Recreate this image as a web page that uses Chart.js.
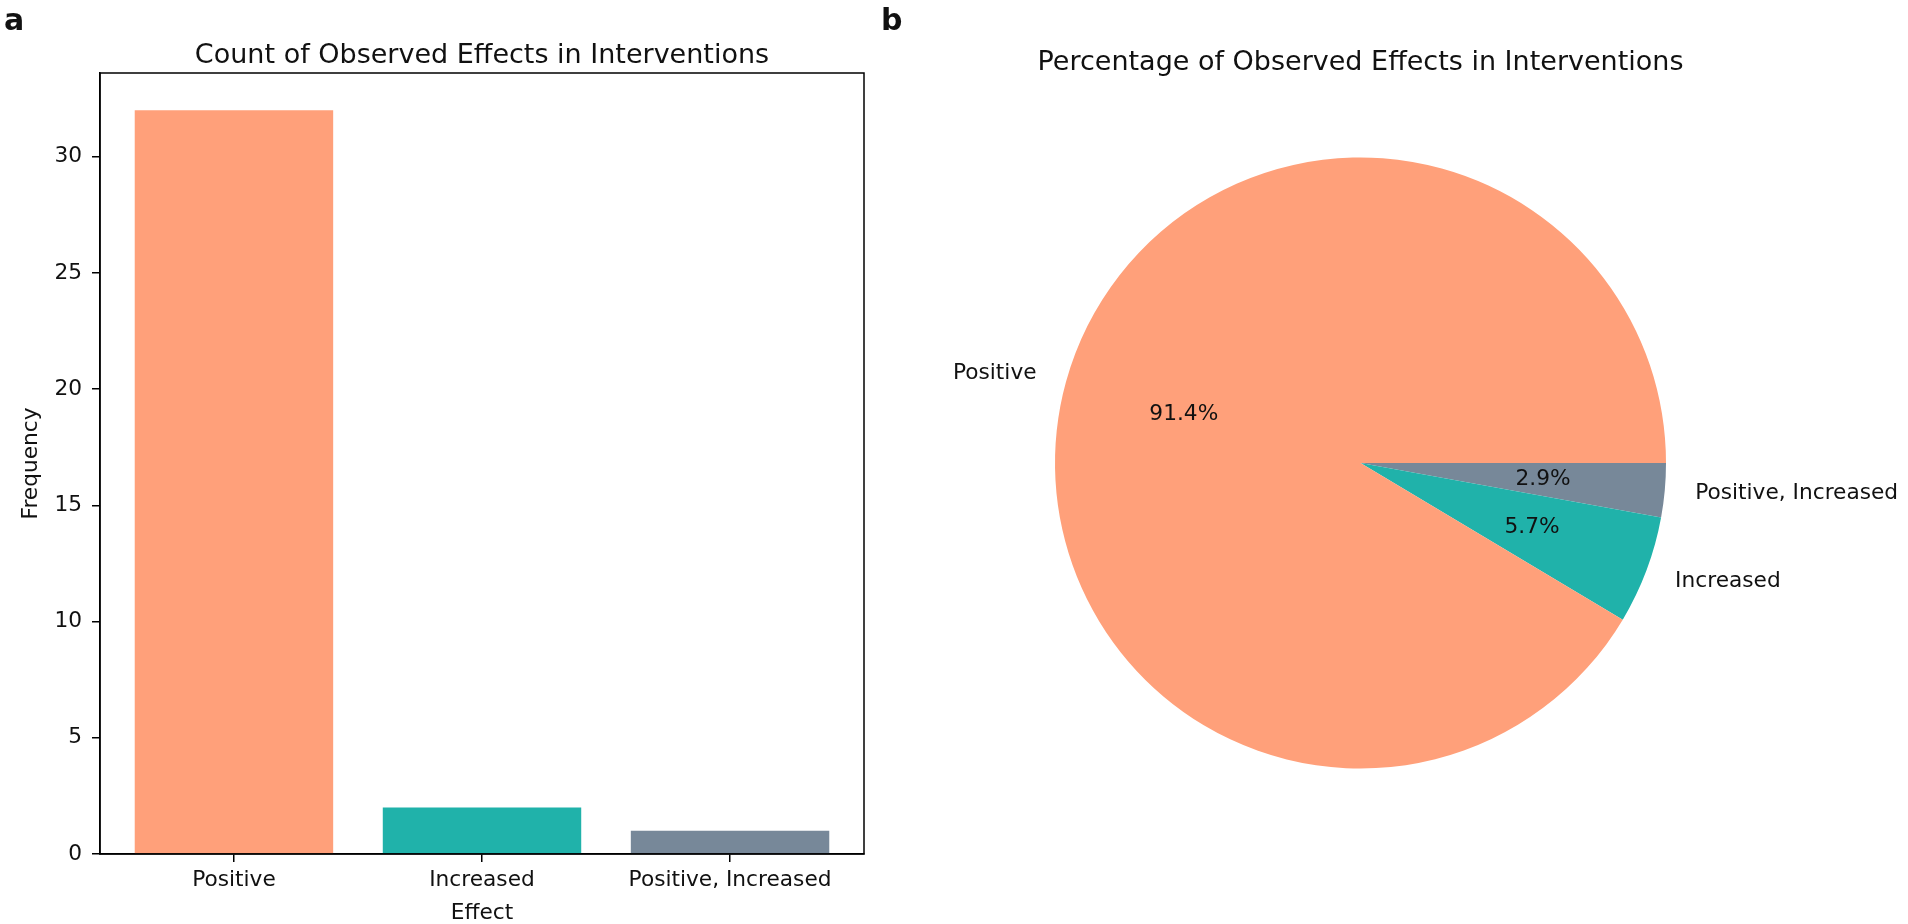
<!DOCTYPE html>
<html>
<head>
<meta charset="utf-8">
<script src="https://cdn.jsdelivr.net/npm/chart.js@4.4.1/dist/chart.umd.min.js"></script>
<style>
  html, body { margin:0; padding:0; background:#fff; overflow:hidden; }
  #barWrap { position:absolute; left:0; top:0; width:880px; height:924px; }
  #pieWrap { position:absolute; left:880px; top:0; width:1028px; height:924px; }
</style>
</head>
<body>
<div id="barWrap"><canvas id="bar" width="880" height="924"></canvas></div>
<div id="pieWrap"><canvas id="pie" width="1028" height="924"></canvas></div>
<script>
// ---- data ----
const categories = ['Positive', 'Increased', 'Positive, Increased'];
const counts = [32, 2, 1];
const colors = ['#FFA07A', '#20B2AA', '#778899'];
const yTicks = [0, 5, 10, 15, 20, 25, 30];
const barTitle = 'Count of Observed Effects in Interventions';
const pieTitle = 'Percentage of Observed Effects in Interventions';
const xLabel = 'Effect';
const yLabel = 'Frequency';

const FONT = 'DejaVu Sans';
const TXT = '#111';
Chart.defaults.font.family = FONT;
Chart.defaults.color = TXT;

const tickFont = { family: FONT, size: 21.7 };

// frame + title + panel letter for bar chart
const barDecor = {
  id: 'barDecor',
  afterDraw(chart) {
    const { ctx, chartArea: a } = chart;
    ctx.save();
    ctx.strokeStyle = '#000';
    ctx.lineWidth = 1.5;
    ctx.strokeRect(a.left, a.top, a.right - a.left, a.bottom - a.top);
    ctx.fillStyle = TXT;
    ctx.font = '27px "' + FONT + '"';
    ctx.textAlign = 'center';
    ctx.textBaseline = 'alphabetic';
    ctx.fillText(barTitle, (a.left + a.right) / 2, a.top - 10);
    ctx.font = 'bold 30px "' + FONT + '"';
    ctx.textAlign = 'left';
    ctx.fillText('a', 4, 30);
    ctx.restore();
  }
};

new Chart(document.getElementById('bar'), {
  type: 'bar',
  data: {
    datasets: [{
      data: categories.map((c, i) => ({ x: i, y: counts[i] })),
      backgroundColor: colors,
      borderWidth: 0,
      barPercentage: 1,
      categoryPercentage: 0.8
    }]
  },
  options: {
    responsive: false,
    animation: false,
    events: [],
    layout: { padding: { left: 0, top: 73, right: 16, bottom: 0 } },
    plugins: { legend: { display: false }, tooltip: { enabled: false } },
    scales: {
      x: {
        type: 'linear',
        min: -0.54, max: 2.54,
        offset: false,
        afterBuildTicks: s => { s.ticks = categories.map((c, i) => ({ value: i })); },
        afterFit: s => { s.height = 70; },
        ticks: { callback: v => categories[v], font: tickFont, color: TXT, padding: 5, maxRotation: 0, autoSkip: false },
        grid: { offset: false, drawOnChartArea: false, drawTicks: true, tickLength: 8, color: '#000', lineWidth: 1.5 },
        border: { display: true, color: '#000', width: 1.5 },
        title: { display: true, text: xLabel, font: { family: FONT, size: 21.7, lineHeight: 1 }, color: TXT, padding: { top: 0, bottom: 0 } }
      },
      y: {
        min: 0, max: 33.6,
        afterBuildTicks: s => { s.ticks = yTicks.map(v => ({ value: v })); },
        afterFit: s => { s.width = 100; },
        ticks: { font: tickFont, color: TXT, padding: 10 },
        grid: { drawOnChartArea: false, drawTicks: true, tickLength: 8, color: '#000', lineWidth: 1.5 },
        border: { display: true, color: '#000', width: 1.5 },
        title: { display: true, text: yLabel, font: { family: FONT, size: 21.7, lineHeight: 1 }, color: TXT, padding: { top: 20.5, bottom: 0 } }
      }
    }
  },
  plugins: [barDecor]
});

// ---- pie (matplotlib draws counter-clockwise from 3 o'clock; Chart.js goes clockwise) ----
const pieLabels = categories.slice().reverse();
const pieValues = counts.slice().reverse();
const pieColors = colors.slice().reverse();
const total = counts.reduce((s, v) => s + v, 0);

const pieDecor = {
  id: 'pieDecor',
  afterDraw(chart) {
    const { ctx } = chart;
    const meta = chart.getDatasetMeta(0);
    ctx.save();
    ctx.fillStyle = TXT;
    let cx = 0, cy = 0, r = 0;
    meta.data.forEach((arc, i) => {
      const p = arc.getProps(['x', 'y', 'startAngle', 'endAngle', 'outerRadius'], true);
      cx = p.x; cy = p.y; r = p.outerRadius;
      const mid = (p.startAngle + p.endAngle) / 2;
      const c = Math.cos(mid), s = Math.sin(mid);
      ctx.font = '21.7px "' + FONT + '"';
      ctx.textBaseline = 'middle';
      ctx.textAlign = c > 0 ? 'left' : 'right';
      ctx.fillText(pieLabels[i], p.x + c * r * 1.1, p.y + s * r * 1.1);
      ctx.textAlign = 'center';
      const pct = (pieValues[i] / total * 100).toFixed(1) + '%';
      ctx.fillText(pct, p.x + c * r * 0.6, p.y + s * r * 0.6);
    });
    ctx.font = '27px "' + FONT + '"';
    ctx.textAlign = 'center';
    ctx.textBaseline = 'alphabetic';
    ctx.fillText(pieTitle, cx, cy - r - 88);
    ctx.font = 'bold 30px "' + FONT + '"';
    ctx.textAlign = 'left';
    ctx.fillText('b', 1, 30);
    ctx.restore();
  }
};

new Chart(document.getElementById('pie'), {
  type: 'pie',
  data: {
    labels: pieLabels,
    datasets: [{ data: pieValues, backgroundColor: pieColors, borderWidth: 0, hoverOffset: 0, offset: 0 }]
  },
  options: {
    responsive: false,
    animation: false,
    events: [],
    rotation: 90,
    layout: { padding: { left: 175, top: 157.5, right: 242, bottom: 155.5 } },
    plugins: { legend: { display: false }, tooltip: { enabled: false } }
  },
  plugins: [pieDecor]
});
</script>
</body>
</html>
